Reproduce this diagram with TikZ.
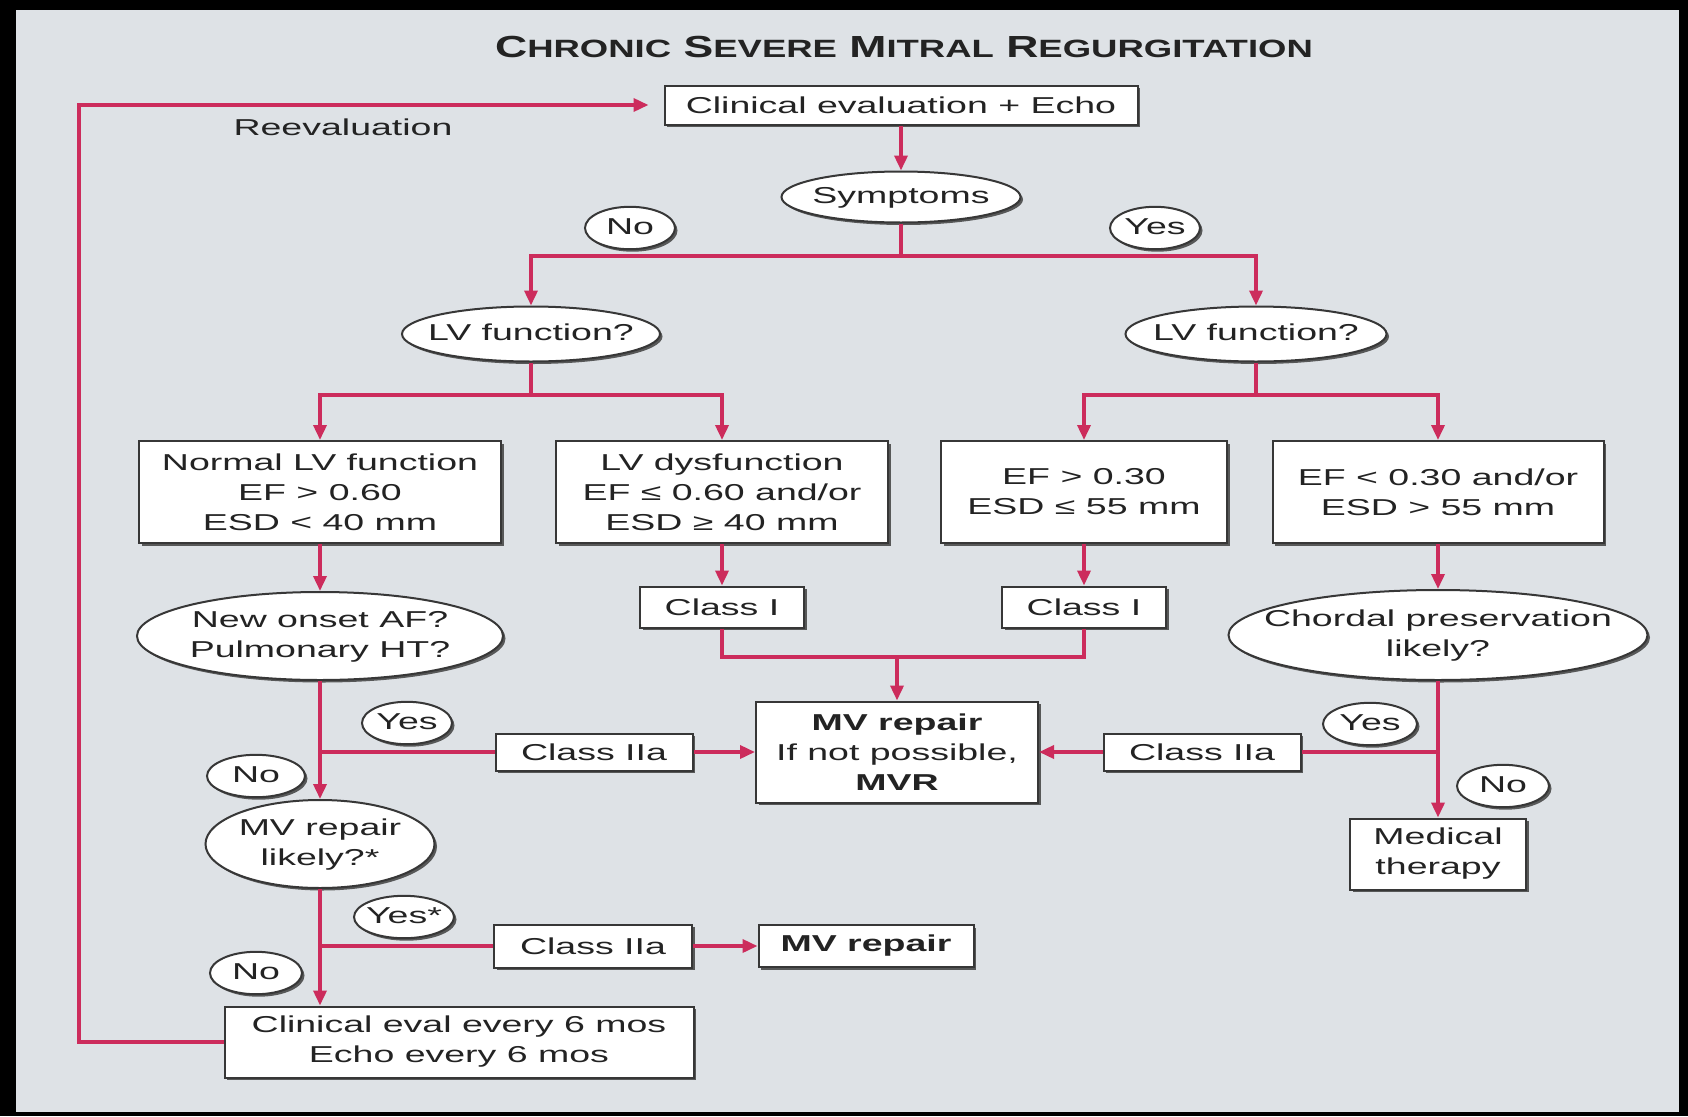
\documentclass[tikz,border=0pt]{standalone}
\usepackage{fontspec}
\setmainfont{Liberation Sans}[FakeStretch=1.63]
\newfontfamily\titlefont{Liberation Sans}[FakeStretch=1.46]
\usetikzlibrary{shapes.geometric,shadows,arrows.meta,calc}
\definecolor{bg}{RGB}{222,226,230}
\definecolor{rd}{RGB}{204,44,92}
\definecolor{bd}{RGB}{55,55,55}
\definecolor{txt}{RGB}{35,35,35}
\newcommand\cl[1]{\makebox[0pt]{\begin{tabular}{@{}c@{}}#1\end{tabular}}}
\newcommand\tbig[1]{{\fontsize{30.5}{32}\selectfont #1}}
\newcommand\tsml[1]{{\fontsize{25}{32}\selectfont #1}}
\begin{document}
\begin{tikzpicture}[x=1pt,y=-1pt,
  every node/.style={font=\fontsize{23}{30}\selectfont, text=txt},
  sh/.style={drop shadow={shadow xshift=2.5pt,shadow yshift=-2.5pt,fill=black!75,opacity=0.85}},
  bx/.style={draw=bd, line width=2pt, fill=white, sh, inner sep=0pt, align=center},
  ell/.style={ellipse, draw=bd, line width=2pt, fill=white, sh, inner sep=0pt},
  ln/.style={draw=rd, line width=3.5pt},
  arr/.style={ln, -{Triangle[length=15pt,width=13pt]}},
]
\fill[black] (0,0) rectangle (1688,1116);
\fill[bg] (16,10) rectangle (1679,1112);
\path[use as bounding box] (0,0) rectangle (1688,1116);

\node[font=\titlefont\bfseries\fontsize{30.5}{32}\selectfont, text=txt] (title) at (904,47)
  {\tbig{C}\tsml{HRONIC} \tbig{S}\tsml{EVERE} \tbig{M}\tsml{ITRAL} \tbig{R}\tsml{EGURGITATION}};

\node[bx, minimum width=473pt, minimum height=39pt] (clin) at (901,105) {Clinical evaluation + Echo};
\node (reev) at (343,127) {Reevaluation};
\node[ell, minimum width=239pt, minimum height=51pt] (sym) at (901,197) {\cl{Symptoms}};
\node[ell, minimum width=90pt, minimum height=40pt] (no1) at (630,228) {\cl{No}};
\node[ell, minimum width=90pt, minimum height=40pt] (yes1) at (1155,228) {\cl{Yes}};
\node[ell, minimum width=258pt, minimum height=55pt] (lvL) at (531,334) {\cl{LV function?}};
\node[ell, minimum width=261pt, minimum height=55pt] (lvR) at (1256,334) {\cl{LV function?}};

\node[bx, minimum width=362pt, minimum height=102pt] (normal) at (320,492) {Normal LV function\\EF > 0.60\\ESD < 40 mm};
\node[bx, minimum width=332pt, minimum height=102pt] (dysf) at (722,492) {LV dysfunction\\EF ≤ 0.60 and/or\\ESD ≥ 40 mm};
\node[bx, minimum width=286pt, minimum height=102pt] (ef30) at (1084,492) {EF > 0.30\\ESD ≤ 55 mm};
\node[bx, minimum width=331pt, minimum height=102pt] (efl) at (1438,492) {EF < 0.30 and/or\\ESD > 55 mm};

\node[bx, minimum width=164pt, minimum height=41pt] (c1L) at (722,607) {Class I};
\node[bx, minimum width=164pt, minimum height=41pt] (c1R) at (1084,607) {Class I};
\node[ell, minimum width=366pt, minimum height=88pt] (onset) at (320,636) {\cl{New onset AF?\\Pulmonary HT?}};
\node[ell, minimum width=419pt, minimum height=90pt] (chord) at (1438,635) {\cl{Chordal preservation\\likely?}};

\node[bx, minimum width=282pt, minimum height=101pt] (mvr) at (897,752) {\textbf{MV repair}\\If not possible,\\\textbf{MVR}};
\node[ell, minimum width=90pt, minimum height=40pt] (yesL) at (407,723) {\cl{Yes}};
\node[bx, minimum width=197pt, minimum height=37pt] (c2L) at (594,752) {Class IIa};
\node[bx, minimum width=197pt, minimum height=37pt] (c2R) at (1202,752) {Class IIa};
\node[ell, minimum width=94pt, minimum height=38pt] (yesR) at (1370,724) {\cl{Yes}};
\node[ell, minimum width=92pt, minimum height=40pt] (noR) at (1503,786) {\cl{No}};
\node[bx, minimum width=176pt, minimum height=71pt] (med) at (1438,854) {Medical\\therapy};
\node[ell, minimum width=98pt, minimum height=41pt] (noL1) at (256,776) {\cl{No}};
\node[ell, minimum width=229pt, minimum height=88pt] (mvl) at (320,844) {\cl{MV repair\\likely?*}};
\node[ell, minimum width=100pt, minimum height=40pt] (yesS) at (404,917) {\cl{Yes*}};
\node[bx, minimum width=198pt, minimum height=43pt] (c2B) at (593,946) {Class IIa};
\node[bx, minimum width=215pt, minimum height=42pt] (mvr2) at (866,946) {\textbf{MV repair}};
\node[ell, minimum width=92pt, minimum height=38pt] (noL2) at (256,973) {\cl{No}};
\node[bx, minimum width=469pt, minimum height=71pt] (eval) at (459,1042) {Clinical eval every 6 mos\\Echo every 6 mos};

% connectors
\coordinate (sj) at (901,256);
\coordinate (lj) at (531,395);
\coordinate (rj) at (1256,395);
\coordinate (cj) at (897,657);
\coordinate (bj1) at (320,752);
\coordinate (bj2) at (1438,752);
\coordinate (bj3) at (320,946);
\coordinate (lb) at (79,1042);
\coordinate (lt) at (79,105);

\draw[arr] (clin) -- (sym);
\draw[ln] (sym) -- (sj);
\draw[arr] (sj) -| (lvL);
\draw[arr] (sj) -| (lvR);
\draw[ln] (lvL) -- (lj);
\draw[arr] (lj) -| (normal);
\draw[arr] (lj) -| (dysf);
\draw[ln] (lvR) -- (rj);
\draw[arr] (rj) -| (ef30);
\draw[arr] (rj) -| (efl);
\draw[arr] (normal) -- (onset);
\draw[arr] (dysf) -- (c1L);
\draw[arr] (ef30) -- (c1R);
\draw[arr] (efl) -- (chord);
\draw[ln] (c1L) |- (cj) -| (c1R);
\draw[arr] (cj) -- (mvr);
\draw[arr] (onset) -- (mvl);
\draw[ln] (bj1) -- (c2L);
\draw[arr] (c2L) -- (mvr);
\draw[arr] (chord) -- (med);
\draw[ln] (bj2) -- (c2R);
\draw[arr] (c2R) -- (mvr);
\draw[arr] (mvl) -- (mvl |- eval.north);
\draw[ln] (bj3) -- (c2B);
\draw[arr] (c2B) -- (mvr2);
\draw[arr, shorten >=15pt] (eval) -- (lb) -- (lt) -- (clin);
\end{tikzpicture}
\end{document}
